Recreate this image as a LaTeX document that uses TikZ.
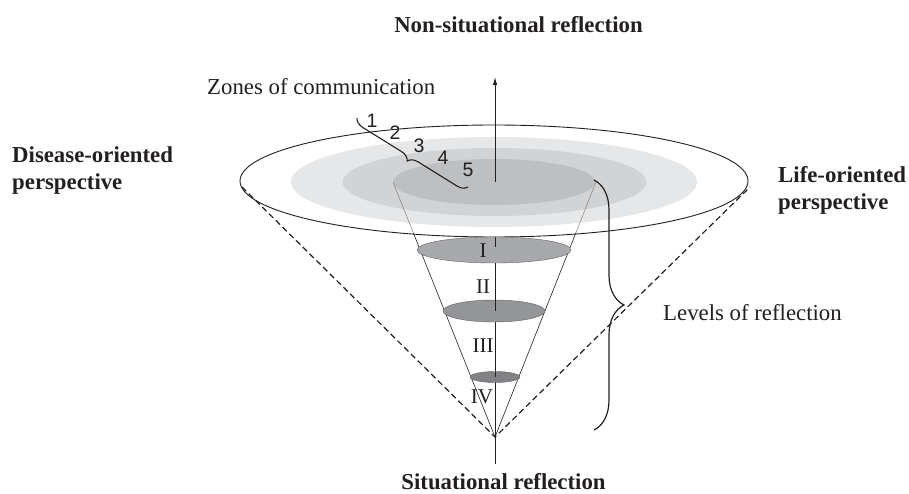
\documentclass[tikz,border=0pt]{standalone}
\usepackage{fontspec}
\setmainfont{Liberation Serif}
\newfontfamily\digitfont{Liberation Sans}
\usetikzlibrary{decorations.pathreplacing,arrows.meta,calc}
\definecolor{ink}{RGB}{35,31,32}
\definecolor{zoneA}{RGB}{230,231,232}
\definecolor{zoneB}{RGB}{209,211,212}
\definecolor{zoneC}{RGB}{189,191,193}
\definecolor{lvlA}{RGB}{167,169,172}
\definecolor{lvlB}{RGB}{147,149,152}
\definecolor{lvlC}{RGB}{128,130,133}
\tikzset{
  lbl/.style={inner sep=0pt, text=ink, font=\fontsize{22.8}{27}\selectfont},
  boldlbl/.style={lbl, font=\fontsize{22.8}{27}\selectfont\bfseries, align=left},
  roman/.style={inner sep=0pt, text=ink, font=\fontsize{21}{24}\selectfont, anchor=base},
  digit/.style={inner sep=0pt, text=ink, font=\digitfont\fontsize{19.5}{22}\selectfont},
  coneline/.style={draw=ink, line width=0.6pt},
  conefaint/.style={draw=ink!55, line width=0.5pt},
  rim/.style={draw=ink, line width=0.9pt},
  levelfill/.style={draw=ink!70, line width=0.4pt},
  axisline/.style={draw=ink, line width=0.9pt},
  dashline/.style={draw=ink, line width=1.2pt, dash pattern=on 6pt off 3.5pt},
  bracebig/.style={draw=ink, line width=1.2pt, decorate, decoration={brace, amplitude=30pt}},
  bracesmall/.style={draw=ink, line width=1.1pt, decorate, decoration={brace, amplitude=10pt}}
}
\begin{document}
\begin{tikzpicture}[x=1pt,y=-1pt]
\useasboundingbox (0,0) rectangle (909,494);
% key points
\coordinate (ctr) at (494,181);
\coordinate (apex) at (495,437);
\coordinate (cl) at (393,182);
\coordinate (cr) at (596,182);
\coordinate (tl) at (242,187);
\coordinate (tr) at (750,187);
\coordinate (axtop) at (495,77);
\coordinate (axbot) at (495,464);
% zones of communication
\fill[zoneA] (494,182) ellipse [x radius=203, y radius=45];
\fill[zoneB] (494.5,182) ellipse [x radius=152, y radius=34];
\fill[zoneC] (494,182) ellipse [x radius=101, y radius=23];
% cone lines
\draw[conefaint] (cl) -- ($(cl)!0.2!(apex)$);
\draw[coneline] ($(cl)!0.2!(apex)$) -- (apex);
\draw[conefaint] (cr) -- ($(cr)!0.2!(apex)$);
\draw[coneline] ($(cr)!0.2!(apex)$) -- (apex);
% outer rim
\draw[rim] (ctr) ellipse [x radius=254, y radius=56];
% lower axis (behind the level discs)
\draw[axisline] (495,237) -- (axbot);
% level discs
\filldraw[fill=lvlA, levelfill] (494,250) ellipse [x radius=77, y radius=13];
\filldraw[fill=lvlB, levelfill] (494,311) ellipse [x radius=51, y radius=11];
\filldraw[fill=lvlC, levelfill] (495,377) ellipse [x radius=25, y radius=5.5];
\draw[axisline] (495,237) -- (495,247);
\draw[axisline] (495,300) -- (495,311);
\draw[axisline] (495,371.5) -- (495,377);
% upper axis with arrow
\draw[axisline, -{Latex[length=8pt,width=4.5pt]}] (495,182) -- (axtop);
% dashed tangents
\draw[dashline] (tl) -- (apex) -- (tr);
% braces
\coordinate (bbTop) at (594,180);
\coordinate (bbBot) at (594,430);
\draw[bracebig] (bbTop) -- (bbBot);
\coordinate (sbA) at (357,118);
\coordinate (sbB) at (468,187);
\draw[bracesmall] (sbB) -- (sbA);
% labels
\node[boldlbl, anchor=base] (nonsit) at (518.5,33) {Non-situational reflection};
\node[boldlbl, anchor=base] (sit) at (503.5,489) {Situational reflection};
\node[lbl, anchor=base west] (zones) at (207,95) {Zones of communication};
\node[lbl, anchor=base west] (levels) at (663,320) {Levels of reflection};
\node[boldlbl, anchor=base west] (dis1) at (12,163) {Disease-oriented};
\node[boldlbl, anchor=base west] (dis2) at (12,190) {perspective};
\node[boldlbl, anchor=base west] (life1) at (778,183) {Life-oriented};
\node[boldlbl, anchor=base west] (life2) at (778,210) {perspective};
\node[roman] (r1) at (483,257) {I};
\node[roman] (r2) at (483,293) {II};
\node[roman] (r3) at (483,352) {III};
\node[roman] (r4) at (482,403) {IV};
\node[digit] (d1) at (372,121) {1};
\node[digit] (d2) at (395,133) {2};
\node[digit] (d3) at (419,146) {3};
\node[digit] (d4) at (443,158) {4};
\node[digit] (d5) at (468,170) {5};
\end{tikzpicture}
\end{document}
